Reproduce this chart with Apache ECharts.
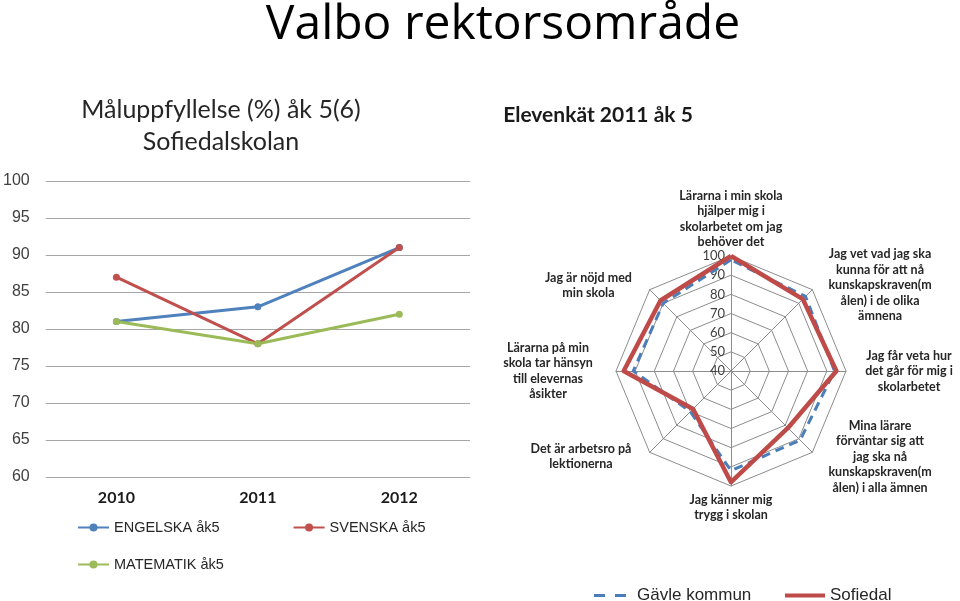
<!DOCTYPE html>
<html>
<head>
<meta charset="utf-8">
<script src="https://cdn.jsdelivr.net/npm/echarts@6/dist/echarts.min.js"></script>
<style>
  html, body { margin: 0; padding: 0; background: #fff; }
  #chart { width: 960px; height: 601px; }
</style>
</head>
<body>
<div id="chart"></div>
<script>
// linjediagram, måluppfyllelse
const years = ['2010', '2011', '2012']
const engelska = [81, 83, 91]
const svenska = [87, 78, 91]
const matematik = [81, 78, 82]
const yTicks = [60, 65, 70, 75, 80, 85, 90, 95, 100]

// radardiagram, elevenkät (moturs från toppen)
const questions = [
  'Lärarna i min skola\nhjälper mig i\nskolarbetet om jag\nbehöver det',
  'Jag är nöjd med\nmin skola',
  'Lärarna på min\nskola tar hänsyn\ntill elevernas\nåsikter',
  'Det är arbetsro på\nlektionerna',
  'Jag känner mig\ntrygg i skolan',
  'Mina lärare\nförväntar sig att\njag ska nå\nkunskapskraven(m\nålen) i alla ämnen',
  'Jag får veta hur\ndet går för mig i\nskolarbetet',
  'Jag vet vad jag ska\nkunna för att nå\nkunskapskraven(m\nålen) i de olika\nämnena'
]
const gavle = [98, 90, 91, 70, 92, 91, 94, 95]
const sofiedal = [100, 92, 96, 68, 98, 82, 95, 93]
const radarTicks = [40, 50, 60, 70, 80, 90, 100]

const nameBoxW = [140, 114, 124, 129, 120, 127, 114, 127]   // bredd på etikettrutor
const rich = {}
nameBoxW.forEach((w, i) => {
  rich['q' + i] = {
    width: w, align: 'center', fontFamily: 'Lato', fontWeight: 'bold',
    fontSize: 12.5, lineHeight: 15.5, color: '#262626'
  }
})

const C = [731, 371]
const R = 115

const chart = echarts.init(document.getElementById('chart'))
chart.setOption({
  animation: false,
  title: [
    { text: 'Valbo rektorsområde', left: 503, top: -3, textAlign: 'center', padding: 0,
      textStyle: { fontFamily: 'Open Sans', fontWeight: 'normal', fontSize: 48, lineHeight: 56, color: '#000' } },
    { text: 'Måluppfyllelse (%) åk 5(6)\nSofiedalskolan', left: 221, top: 94, textAlign: 'center', padding: 0,
      textStyle: { fontFamily: 'Lato', fontWeight: 'normal', fontSize: 25, lineHeight: 32, color: '#262626' } },
    { text: 'Elevenkät 2011 åk 5', left: 598, top: 105, textAlign: 'center', padding: 0,
      textStyle: { fontFamily: 'Lato', fontWeight: 'bold', fontSize: 21, color: '#1a1a1a' } }
  ],
  legend: [
    { data: ['ENGELSKA åk5', 'SVENSKA åk5'], left: 72, top: 515, itemWidth: 31, itemHeight: 10, itemGap: 73,
      textStyle: { fontFamily: 'Liberation Sans', fontSize: 14.5, color: '#262626' } },
    { data: ['MATEMATIK åk5'], left: 72, top: 552, itemWidth: 31, itemHeight: 10,
      textStyle: { fontFamily: 'Liberation Sans', fontSize: 14.5, color: '#262626' } },
    { data: [{ name: 'Gävle kommun', icon: 'path://M0,0h11v3h-11zM21,0h11v3h-11z' }], left: 589, top: 582,
      itemWidth: 32, itemHeight: 3,
      textStyle: { fontFamily: 'Liberation Sans', fontSize: 17, color: '#262626', padding: [0, 0, 0, 6] } },
    { data: [{ name: 'Sofiedal', icon: 'path://M0,0h40v4h-40z' }], left: 780, top: 582,
      itemWidth: 40, itemHeight: 4,
      textStyle: { fontFamily: 'Liberation Sans', fontSize: 17, color: '#262626' } }
  ],
  grid: { left: 44, top: 181, width: 426, height: 296 },
  xAxis: {
    type: 'category', data: years,
    axisLine: { show: false }, axisTick: { show: false },
    axisLabel: { margin: 13, fontFamily: 'Lato', fontWeight: 'bold', fontSize: 16, color: '#1a1a1a' }
  },
  yAxis: {
    type: 'value', min: yTicks[0], max: yTicks[yTicks.length - 1], interval: 5,
    axisLine: { show: false }, axisTick: { show: false },
    axisLabel: { margin: 16, fontFamily: 'Liberation Sans', fontSize: 16, color: '#404040' },
    splitLine: { lineStyle: { color: '#a6a6a6', width: 1 } }
  },
  polar: { center: C, radius: R },
  angleAxis: { show: false, startAngle: 90, min: 0, max: 360 },
  radiusAxis: {
    min: radarTicks[0], max: radarTicks[radarTicks.length - 1], interval: 10,
    axisLine: { show: false }, axisTick: { show: false }, splitLine: { show: false },
    axisLabel: { fontFamily: 'Lato', fontSize: 13, color: '#404040', margin: 6 }
  },
  radar: {
    center: C, radius: R, startAngle: 90, splitNumber: 6, shape: 'polygon', nameGap: 6,
    indicator: questions.map(q => ({ name: q, min: 40, max: 100 })),
    axisName: {
      formatter: (name) => '{q' + questions.indexOf(name) + '|' + name + '}',
      rich: rich
    },
    axisLine: { lineStyle: { color: '#8c8c8c', width: 1 } },
    splitLine: { lineStyle: { color: '#8c8c8c', width: 1 } },
    splitArea: { show: false }
  },
  series: [
    { name: 'ENGELSKA åk5', type: 'line', data: engelska, symbol: 'circle', symbolSize: 7,
      itemStyle: { color: '#4f81bd' }, lineStyle: { color: '#4f81bd', width: 3 } },
    { name: 'SVENSKA åk5', type: 'line', data: svenska, symbol: 'circle', symbolSize: 7,
      itemStyle: { color: '#c0504d' }, lineStyle: { color: '#c0504d', width: 3 } },
    { name: 'MATEMATIK åk5', type: 'line', data: matematik, symbol: 'circle', symbolSize: 7,
      itemStyle: { color: '#9bbb59' }, lineStyle: { color: '#9bbb59', width: 3 } },
    { type: 'radar', symbol: 'none',
      data: [
        { name: 'Gävle kommun', value: gavle,
          itemStyle: { color: '#4a7ebb' }, lineStyle: { color: '#4a7ebb', width: 3, type: [9, 6] } },
        { name: 'Sofiedal', value: sofiedal,
          itemStyle: { color: '#be4b48' }, lineStyle: { color: '#be4b48', width: 4.5 } }
      ] }
  ]
})
</script>
</body>
</html>
